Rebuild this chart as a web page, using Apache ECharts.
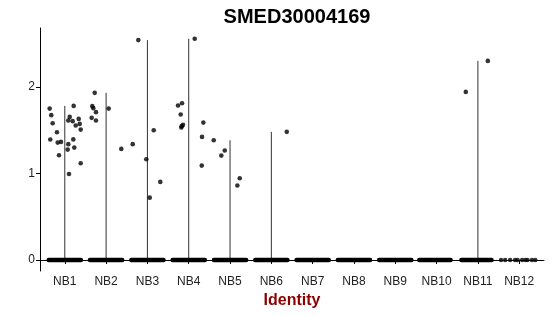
<!DOCTYPE html>
<html>
<head>
<meta charset="utf-8">
<script src="https://cdn.jsdelivr.net/npm/echarts@6/dist/echarts.min.js"></script>
<style>html,body{margin:0;padding:0;background:#fff}#c{width:550px;height:316px}</style>
</head>
<body>
<div id="c"></div>
<script>
// ---- data ----
const categories = ['NB1','NB2','NB3','NB4','NB5','NB6','NB7','NB8','NB9','NB10','NB11','NB12'];
const yTickValues = [0, 1, 2];
const titleText = 'SMED30004169';
const xTitle = 'Identity';

// non-zero cells: [jitter offset, expression]
const pointsNB1 = [[-0.366,1.749],[-0.327,1.673],[-0.293,1.580],[-0.189,1.476],[-0.351,1.391],[-0.172,1.356],
  [-0.092,1.364],[-0.140,1.210],[0.215,1.780],[0.119,1.653],[0.085,1.611],[0.191,1.604],[0.264,1.553],
  [0.337,1.630],[0.361,1.572],[0.385,1.506],[0.206,1.393],[0.085,1.338],[0.230,1.298],[0.070,1.275],
  [0.385,1.118],[0.102,0.994]];
const pointsNB2 = [[-0.276,1.931],[-0.334,1.777],[-0.310,1.754],[-0.245,1.708],[-0.349,1.642],[-0.245,1.611],
  [0.063,1.749],[0.368,1.283]];
const pointsNB3 = [[-0.220,2.540],[0.153,1.499],[-0.356,1.338],[-0.027,1.164],[0.312,0.902],[0.056,0.720]];
const pointsNB4 = [[0.145,2.555],[-0.259,1.784],[-0.162,1.811],[-0.194,1.680],[-0.138,1.561],[-0.169,1.546],
  [-0.179,1.530],[0.354,1.587],[0.322,1.422],[0.315,1.090]];
const pointsNB5 = [[-0.395,1.383],[-0.128,1.264],[-0.211,1.206],[0.235,0.944],[0.177,0.861]];
const pointsNB6 = [[0.373,1.480]];
const pointsNB11 = [[0.240,2.300],[-0.293,1.942]];
const nonZeroPoints = [pointsNB1, pointsNB2, pointsNB3, pointsNB4, pointsNB5, pointsNB6, [], [], [], [], pointsNB11, []];

// zero-valued cells: jitter extent per group (dense groups) and sparse offsets (NB12)
const zeroSpans = [[-0.39,0.39],[-0.39,0.39],[-0.39,0.39],[-0.39,0.39],[-0.39,0.39],[-0.39,0.39],
  [-0.39,0.39],[-0.39,0.39],[-0.39,0.39],[-0.42,0.34],[-0.40,0.33]];
const zeroOffsetsNB12 = [-0.44,-0.34,-0.22,-0.10,-0.04,0.07,0.15,0.20,0.31,0.39];

// ---- build series data ----
const pointData = [];
nonZeroPoints.forEach((arr, i) => arr.forEach(p => pointData.push([i + 1 + p[0], p[1]])));
const violinData = [];
nonZeroPoints.forEach((arr, i) => {
  if (arr.length) violinData.push([i + 1, Math.max(...arr.map(p => p[1]))]);
});
const zeroBandData = zeroSpans.map((s, i) => [i + 1 + s[0], i + 1 + s[1]]);
const zeroDotData = zeroOffsetsNB12.map(o => [12 + o, 0]);

const chart = echarts.init(document.getElementById('c'), null, {renderer: 'canvas'});
const font = 'Liberation Sans, Arial, sans-serif';
chart.setOption({
  animation: false,
  backgroundColor: '#fff',
  title: {
    text: titleText, left: 292, top: 2, textAlign: 'center',
    textStyle: {fontFamily: font, fontSize: 20, fontWeight: 'bold', color: '#000'}
  },
  grid: {left: 40, right: 6, top: 28, bottom: 45, containLabel: false, outerBoundsMode: 'none'},
  xAxis: {
    type: 'value', min: 0.4, max: 12.6,
    name: xTitle, nameLocation: 'middle', nameGap: 21,
    nameTextStyle: {fontFamily: font, fontSize: 16, fontWeight: 'bold', color: '#8B0000'},
    axisLine: {lineStyle: {color: '#000', width: 1}},
    axisTick: {show: true, length: 4, customValues: categories.map((c, i) => i + 1), lineStyle: {color: '#000'}},
    axisLabel: {customValues: categories.map((c, i) => i + 1), formatter: v => categories[Math.round(v) - 1],
      fontFamily: font, fontSize: 12, color: '#222', margin: 5},
    splitLine: {show: false}
  },
  yAxis: {
    type: 'value', min: -0.1275, max: 2.68,
    axisLine: {show: true, lineStyle: {color: '#000', width: 1}},
    axisTick: {show: true, length: 4, customValues: yTickValues, lineStyle: {color: '#000'}},
    axisLabel: {customValues: yTickValues, fontFamily: font, fontSize: 12, color: '#222', margin: 5},
    splitLine: {show: false}
  },
  series: [
    {
      type: 'custom', data: violinData, z: 1,
      renderItem: (params, api) => {
        const a = api.coord([api.value(0), 0]);
        const b = api.coord([api.value(0), api.value(1)]);
        return {type: 'line', shape: {x1: a[0], y1: a[1], x2: b[0], y2: b[1]},
          style: {stroke: '#333', lineWidth: 1}};
      }
    },
    {
      type: 'custom', data: zeroBandData, z: 2,
      renderItem: (params, api) => {
        const a = api.coord([api.value(0), 0]);
        const b = api.coord([api.value(1), 0]);
        return {type: 'line', shape: {x1: a[0], y1: a[1], x2: b[0], y2: b[1]},
          style: {stroke: '#000', lineWidth: 4.5, lineCap: 'round'}};
      }
    },
    {type: 'scatter', data: zeroDotData, symbolSize: 4.5, itemStyle: {color: '#000'}, z: 3},
    {type: 'scatter', data: pointData, symbolSize: 4.6, itemStyle: {color: '#000'}, z: 4}
  ]
});
</script>
</body>
</html>
